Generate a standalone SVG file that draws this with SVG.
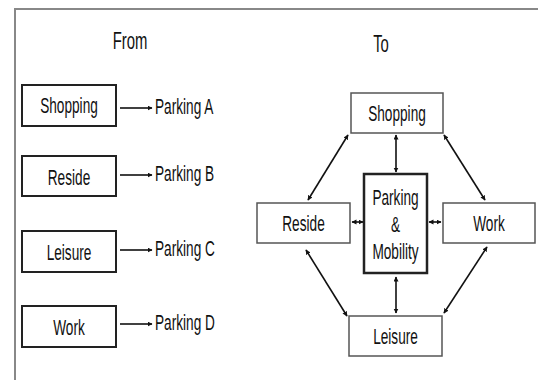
<svg xmlns="http://www.w3.org/2000/svg" width="538" height="380" viewBox="0 0 538 380">
<style>
text{font-family:"Liberation Sans",Arial,sans-serif;font-size:22px;fill:#111}
.h{font-size:24px}
.lb{fill:#fff;stroke:#222;stroke-width:2}
.rb{fill:#fff;stroke:#555;stroke-width:1.5}
.pb{fill:#fff;stroke:#222;stroke-width:2.5}
.ln{stroke:#111;stroke-width:1.6;fill:none}
.one{marker-end:url(#ah)}
.two{marker-start:url(#ah);marker-end:url(#ah)}
</style>
<defs>
<marker id="ah" markerUnits="userSpaceOnUse" markerWidth="6" markerHeight="6" refX="4.5" refY="2.5" orient="auto-start-reverse">
<path d="M0,0 L5,2.5 L0,5 Z" fill="#111"/>
</marker>
</defs>
<path d="M15,380 V9 H538" fill="none" stroke="#888" stroke-width="2"/>
<text class="h" text-anchor="middle" transform="translate(130,49) scale(0.62,1)">From</text>
<text class="h" text-anchor="middle" transform="translate(381,52) scale(0.62,1)">To</text>

<g id="from-shopping">
<rect class="lb" x="22" y="85" width="94" height="41"/>
<text text-anchor="middle" transform="translate(69,113) scale(0.62,1)">Shopping</text>
</g>
<g id="parking-a"><text transform="translate(155,114) scale(0.62,1)">Parking A</text></g>
<g id="from-reside">
<rect class="lb" x="22" y="156" width="94" height="40"/>
<text text-anchor="middle" transform="translate(69,185) scale(0.62,1)">Reside</text>
</g>
<g id="parking-b"><text transform="translate(155,181) scale(0.62,1)">Parking B</text></g>
<g id="from-leisure">
<rect class="lb" x="22" y="231" width="94" height="41"/>
<text text-anchor="middle" transform="translate(69,260) scale(0.62,1)">Leisure</text>
</g>
<g id="parking-c"><text transform="translate(155,256) scale(0.62,1)">Parking C</text></g>
<g id="from-work">
<rect class="lb" x="22" y="306" width="94" height="41"/>
<text text-anchor="middle" transform="translate(69,335) scale(0.62,1)">Work</text>
</g>
<g id="parking-d"><text transform="translate(155,330) scale(0.62,1)">Parking D</text></g>

<g id="to-shopping">
<rect class="rb" x="351" y="93" width="92" height="40"/>
<text text-anchor="middle" transform="translate(397,121) scale(0.62,1)">Shopping</text>
</g>
<g id="parking-mobility">
<rect class="pb" x="364" y="174" width="63" height="99"/>
<text text-anchor="middle" transform="translate(395.5,205) scale(0.62,1)">Parking</text>
<text text-anchor="middle" transform="translate(395.5,232) scale(0.62,1)">&amp;</text>
<text text-anchor="middle" transform="translate(395.5,259) scale(0.62,1)">Mobility</text>
</g>
<g id="to-reside">
<rect class="rb" x="257" y="203" width="93" height="40"/>
<text text-anchor="middle" transform="translate(303.5,231) scale(0.62,1)">Reside</text>
</g>
<g id="to-work">
<rect class="rb" x="443" y="203" width="92" height="40"/>
<text text-anchor="middle" transform="translate(489,231) scale(0.62,1)">Work</text>
</g>
<g id="to-leisure">
<rect class="rb" x="349" y="316" width="93" height="40"/>
<text text-anchor="middle" transform="translate(395.5,344) scale(0.62,1)">Leisure</text>
</g>

<g id="connectors">
<line class="ln one" x1="120" y1="108" x2="152" y2="108"/>
<line class="ln one" x1="120" y1="175" x2="152" y2="175"/>
<line class="ln one" x1="120" y1="250" x2="152" y2="250"/>
<line class="ln one" x1="120" y1="324" x2="152" y2="324"/>
<line class="ln two" x1="396" y1="135" x2="396" y2="172"/>
<line class="ln two" x1="396" y1="277" x2="396" y2="313"/>
<line class="ln two" x1="352" y1="222" x2="363" y2="222"/>
<line class="ln two" x1="429" y1="222" x2="441" y2="222"/>
<line class="ln two" x1="308" y1="200" x2="348" y2="135"/>
<line class="ln two" x1="444" y1="135" x2="485" y2="200"/>
<line class="ln two" x1="306" y1="250" x2="347" y2="316"/>
<line class="ln two" x1="487" y1="247" x2="444" y2="313"/>
</g>
</svg>
